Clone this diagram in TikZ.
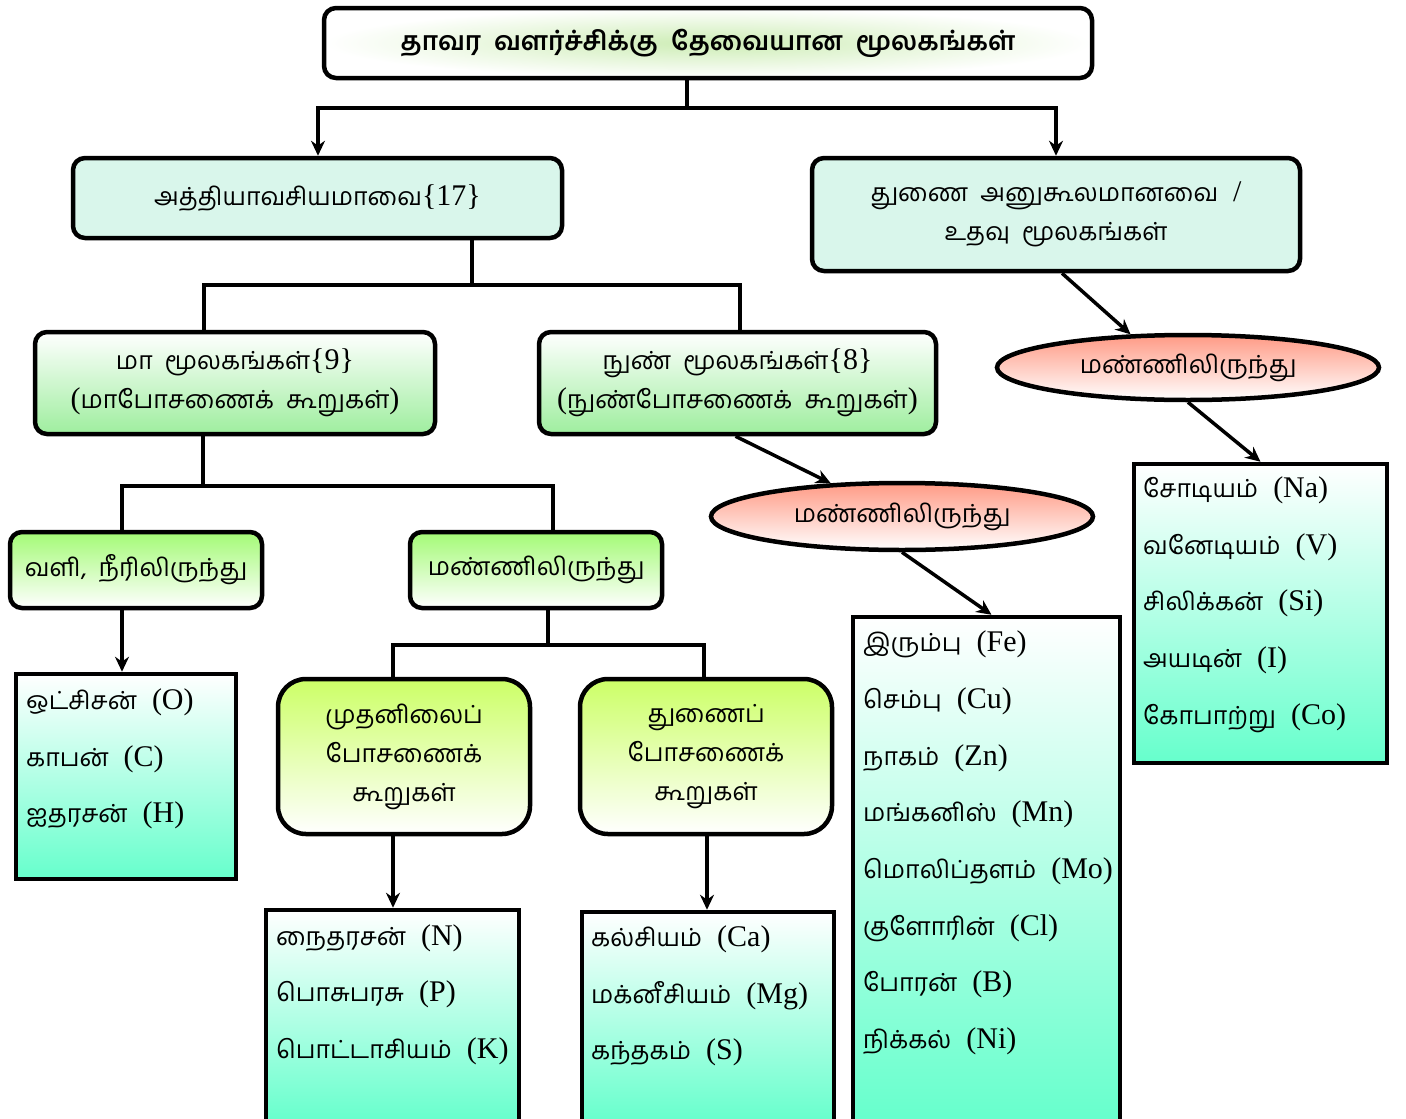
\documentclass[tikz,border=0pt]{standalone}
\usepackage{fontspec}
\setmainfont{Liberation Serif}
\newfontfamily\tamilfont[Script=Tamil,Scale=0.83]{Hind Madurai}
\newcommand\tam[1]{{\tamilfont #1}}
\usetikzlibrary{arrows.meta,shapes.geometric}
\definecolor{mint}{HTML}{D9F6EB}
\definecolor{paleg}{HTML}{9EEE9E}
\definecolor{brightg}{HTML}{A3FA75}
\definecolor{yellowg}{HTML}{CCFF66}
\definecolor{salmon}{HTML}{FF9A85}
\definecolor{aqua}{HTML}{66FFCC}
\definecolor{titleg}{HTML}{CDEDB5}
\tikzset{
  txt/.style={font=\fontsize{30}{39}\selectfont, align=center},
  base/.style={txt, draw=black, line width=4.5pt, inner sep=0pt},
  rbox/.style={base, rounded corners=12pt},
  mintbox/.style={rbox, fill=mint},
  greenbox/.style={rbox, top color=white, bottom color=paleg},
  brightbox/.style={rbox, top color=brightg, bottom color=white},
  yellowbox/.style={base, rounded corners=28pt, top color=yellowg, bottom color=white},
  oval/.style={base, ellipse, top color=salmon, bottom color=white},
  listbox/.style={draw=black, line width=4.5pt, top color=white, bottom color=aqua},
  item/.style={font=\fontsize{30}{56.7}\selectfont, align=left, anchor=west, inner sep=0pt},
  conn/.style={line width=3.5pt},
  arr/.style={conn, -{Stealth[length=15pt,width=14pt]}},
  sz/.style 2 args={minimum width=#1, minimum height=#2}
}
\begin{document}
\begin{tikzpicture}[x=1pt,y=-1pt]
\useasboundingbox (0,0) rectangle (1406,1119);
% title
\node[rbox, sz={768pt}{70pt}, inner color=titleg, outer color=white,
      font=\fontsize{31.5}{39}\selectfont] (title) at (708,43)
  {\tamilfont\bfseries தாவர\ \ வளர்ச்சிக்கு\ \ தேவையான\ \ மூலகங்கள்};
% level 2
\node[mintbox, sz={489pt}{80pt}] (ess) at (317.5,198) {\tam{அத்தியாவசியமாவை}\{17\}};
\node[mintbox, sz={488pt}{113pt}] (aux) at (1056,214.5)
  {\tam{துணை\ \ அனுகூலமானவை}\ \ /\\ \tam{உதவு\ \ மூலகங்கள்}};
% level 3
\node[greenbox, sz={400pt}{102pt}] (macro) at (235,383)
  {\tam{மா\ \ மூலகங்கள்}\{9\}\\(\tam{மாபோசணைக்\ \ கூறுகள்})};
\node[greenbox, sz={397pt}{102pt}] (micro) at (737.5,383)
  {\tam{நுண்\ \ மூலகங்கள்}\{8\}\\(\tam{நுண்போசணைக்\ \ கூறுகள்})};
% ovals
\node[oval, sz={382pt}{67pt}] (el1) at (902,516.5) {\tam{மண்ணிலிருந்து}};
\node[oval, sz={382pt}{65pt}] (el2) at (1188,367.5) {\tam{மண்ணிலிருந்து}};
% level 4
\node[brightbox, sz={252pt}{76pt}] (vali) at (136,570) {\tam{வளி,\ \ நீரிலிருந்து}};
\node[brightbox, sz={252pt}{76pt}] (mann) at (536,570) {\tam{மண்ணிலிருந்து}};
% level 5
\node[yellowbox, sz={252pt}{155pt}] (prim) at (404,756.5)
  {\tam{முதனிலைப்}\\\tam{போசணைக்}\\\tam{கூறுகள்}};
\node[yellowbox, sz={252pt}{155pt}] (sec) at (706,756.5)
  {\tam{துணைப்}\\\tam{போசணைக்}\\\tam{கூறுகள்}};
% list boxes
\node[listbox, sz={220pt}{205pt}] (obox) at (126,776.5) {};
\node[listbox, sz={253pt}{213pt}] (nbox) at (392.5,1016.5) {};
\node[listbox, sz={252pt}{211pt}] (cabox) at (708,1017.5) {};
\node[listbox, sz={267pt}{506pt}] (febox) at (986.5,870) {};
\node[listbox, sz={253pt}{299pt}] (nabox) at (1260.5,613.5) {};
% list texts
\node[item] (olist) at (26,759)
  {\tam{ஒட்சிசன்}\ \ (O)\\\tam{காபன்}\ \ (C)\\\tam{ஐதரசன்}\ \ (H)};
\node[item] (nlist) at (276,994.5)
  {\tam{நைதரசன்}\ \ (N)\\\tam{பொசுபரசு}\ \ (P)\\\tam{பொட்டாசியம்}\ \ (K)};
\node[item] (calist) at (591,996)
  {\tam{கல்சியம்}\ \ (Ca)\\\tam{மக்னீசியம்}\ \ (Mg)\\\tam{கந்தகம்}\ \ (S)};
\node[item] (felist) at (863,843)
  {\tam{இரும்பு}\ \ (Fe)\\\tam{செம்பு}\ \ (Cu)\\\tam{நாகம்}\ \ (Zn)\\\tam{மங்கனிஸ்}\ \ (Mn)\\
   \tam{மொலிப்தளம்}\ \ (Mo)\\\tam{குளோரின்}\ \ (Cl)\\\tam{போரன்}\ \ (B)\\\tam{நிக்கல்}\ \ (Ni)};
\node[item] (nalist) at (1143,604.5)
  {\tam{சோடியம்}\ \ (Na)\\\tam{வனேடியம்}\ \ (V)\\\tam{சிலிக்கன்}\ \ (Si)\\\tam{அயடின்}\ \ (I)\\\tam{கோபாற்று}\ \ (Co)};
% connectors
\coordinate (j1) at (687,108);
\draw[conn] (title.south -| j1) -- (j1);
\draw[arr] (j1) -| ([xshift=0.5pt]ess.north);
\draw[arr] (j1) -| (aux.north);
\coordinate (j2) at (472,285);
\draw[conn] (ess.south -| j2) -- (j2);
\draw[conn] (j2) -| ([xshift=-31pt]macro.north);
\draw[conn] (j2) -| ([xshift=2.5pt]micro.north);
\coordinate (j3) at (203,486);
\draw[conn] (macro.south -| j3) -- (j3);
\draw[conn] (j3) -| ([xshift=-14pt]vali.north);
\draw[conn] (j3) -| ([xshift=17pt]mann.north);
\draw[arr] ([xshift=-14pt]vali.south) -- ([xshift=-14pt]vali.south |- obox.north);
\coordinate (j4) at (548,645);
\draw[conn] (mann.south -| j4) -- (j4);
\draw[conn] (j4) -| ([xshift=-11pt]prim.north);
\draw[conn] (j4) -| ([xshift=-2pt]sec.north);
\draw[arr] ([xshift=-11pt]prim.south) -- ([xshift=-11pt]prim.south |- nbox.north);
\draw[arr] ([xshift=1pt]sec.south) -- ([xshift=1pt]sec.south |- cabox.north);
\draw[arr] ([xshift=-2pt]micro.south) -- (el1.155);
\draw[arr] (el1.south) -- ([xshift=5pt]febox.north);
\draw[arr] ([xshift=6pt]aux.south) -- (el2.150);
\draw[arr] (el2.south) -- (nabox.north);
\end{tikzpicture}
\end{document}
